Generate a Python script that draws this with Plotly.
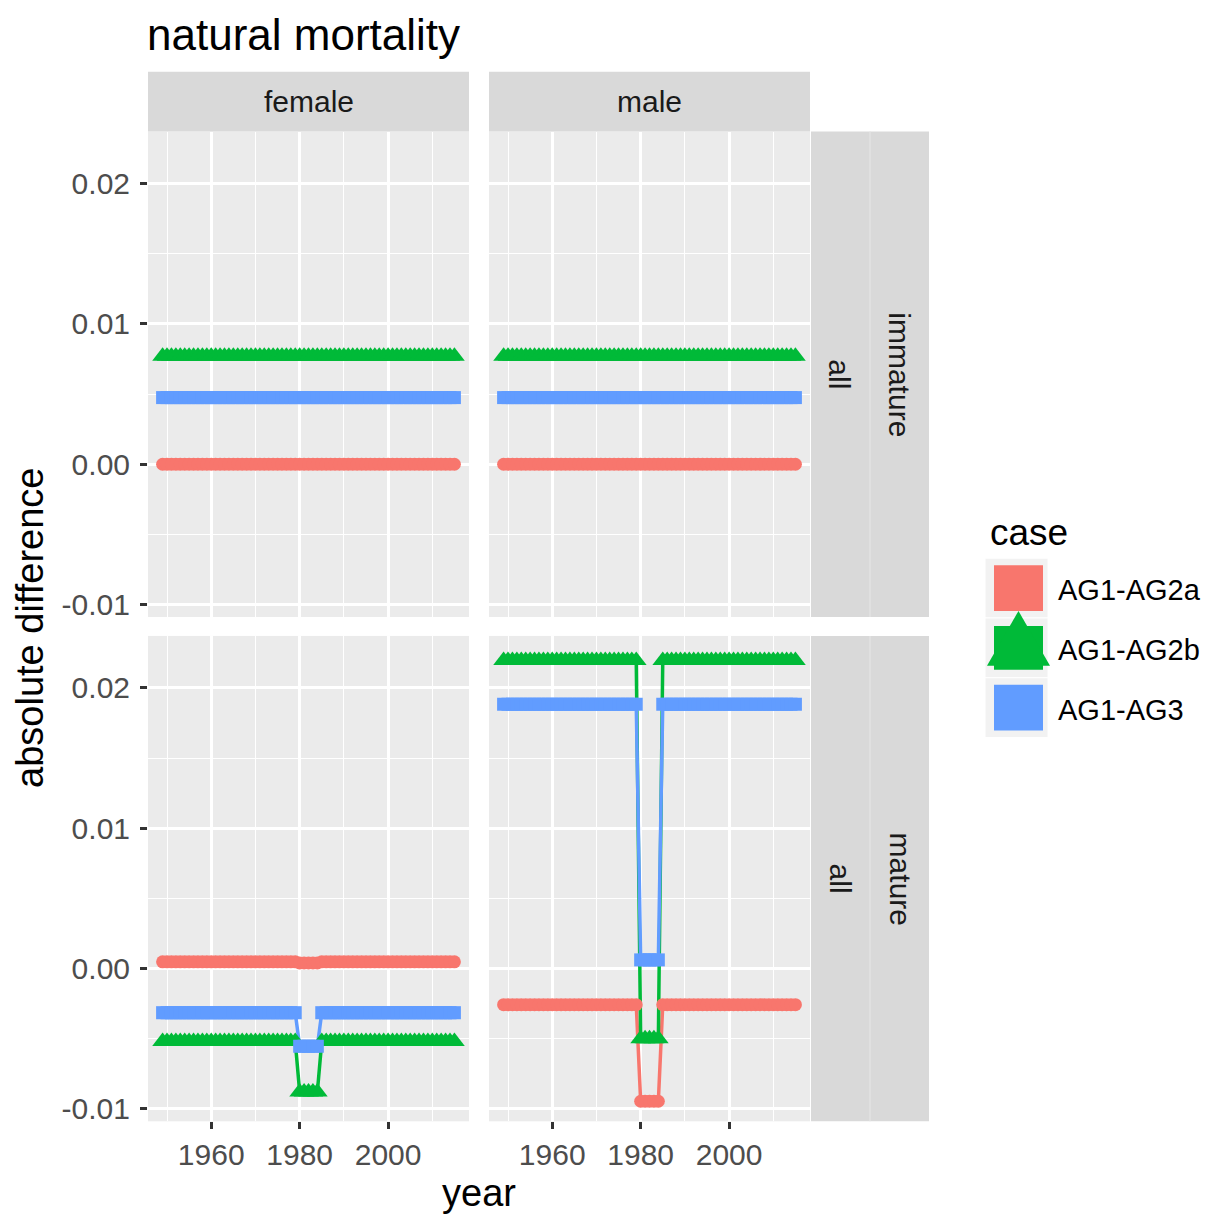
import plotly.graph_objects as go

# ---------------- data ----------------
years = list(range(1949, 2016))          # 67 years, dip years 1980-1984
cases = ["AG1-AG2a", "AG1-AG2b", "AG1-AG3"]
colors = {"AG1-AG2a": "#F8766D", "AG1-AG2b": "#00BA38", "AG1-AG3": "#619CFF"}
symbols = {"AG1-AG2a": "circle", "AG1-AG2b": "triangle-up", "AG1-AG3": "square"}
msizes = {"AG1-AG2a": 13, "AG1-AG2b": 18, "AG1-AG3": 13}

sexes = ["female", "male"]
maturity = ["immature", "mature"]

# immature (same for both sexes)
fem_imm_AG2a = [0.0] * 67
fem_imm_AG2b = [0.0077] * 67
fem_imm_AG3 = [0.00475] * 67
male_imm_AG2a = [0.0] * 67
male_imm_AG2b = [0.0077] * 67
male_imm_AG3 = [0.00475] * 67

# mature: 1949-1979, 1980-1984, 1985-2015
fem_mat_AG2a = [0.00048] * 31 + [0.0004] * 5 + [0.00048] * 31
fem_mat_AG2b = [-0.0052] * 31 + [-0.0088] * 5 + [-0.0052] * 31
fem_mat_AG3 = [-0.00314] * 31 + [-0.00553] * 5 + [-0.00314] * 31
male_mat_AG2a = [-0.00257] * 31 + [-0.00945] * 5 + [-0.00257] * 31
male_mat_AG2b = [0.02195] * 31 + [-0.0050] * 5 + [0.02195] * 31
male_mat_AG3 = [0.01884] * 31 + [0.00062] * 5 + [0.01884] * 31

x_ticks = [1960, 1980, 2000]
x_minor = [1950, 1970, 1990, 2010]
y_ticks = [-0.01, 0.0, 0.01, 0.02]
y_ticklabels = ["-0.01", "0.00", "0.01", "0.02"]
y_minor = [-0.005, 0.005, 0.015]

panels = {
    ("female", "immature"): [fem_imm_AG2a, fem_imm_AG2b, fem_imm_AG3],
    ("male", "immature"): [male_imm_AG2a, male_imm_AG2b, male_imm_AG3],
    ("female", "mature"): [fem_mat_AG2a, fem_mat_AG2b, fem_mat_AG3],
    ("male", "mature"): [male_mat_AG2a, male_mat_AG2b, male_mat_AG3],
}

# ---------------- layout helpers ----------------
OFF = 8  # page body margin
W, H = 1212 - OFF, 1220 - OFF
def px(x): return (x - OFF) / W
def py(y): return 1 - (y - OFF) / H

col_dom = {"female": [px(148), px(469)], "male": [px(489), px(810)]}
row_dom = {"immature": [py(619), py(132)], "mature": [py(1125), py(638)]}
XR = [1945.7, 2018.3]
YR = [-0.01088, 0.0237]

FONT = "Liberation Sans, Arial, Helvetica, sans-serif"
TICKC = "#4D4D4D"

fig = go.Figure()
layout = dict(
    width=W, height=H, autosize=False,
    margin=dict(l=0, r=0, t=0, b=0),
    paper_bgcolor="white", plot_bgcolor="#EBEBEB",
    showlegend=False, font=dict(family=FONT),
)

idx = 0
for mat in maturity:
    for sex in sexes:
        idx += 1
        xa = "x" if idx == 1 else f"x{idx}"
        ya = "y" if idx == 1 else f"y{idx}"
        series = panels[(sex, mat)]
        # lines first
        for c, vals in zip(cases, series):
            fig.add_trace(go.Scatter(x=years, y=vals, mode="lines", xaxis=xa, yaxis=ya,
                                     line=dict(color=colors[c], width=3.5), hoverinfo="skip"))
        for c, vals in zip(cases, series):
            fig.add_trace(go.Scatter(x=years, y=vals, mode="markers", xaxis=xa, yaxis=ya, name=c,
                                     marker=dict(color=colors[c], symbol=symbols[c], size=msizes[c],
                                                 line=dict(width=0))))
        bottom = mat == "mature"
        left = sex == "female"
        layout["xaxis" if idx == 1 else f"xaxis{idx}"] = dict(
            domain=col_dom[sex], anchor=ya, range=XR, zeroline=False,
            tickvals=x_ticks, ticktext=[str(v) for v in x_ticks],
            showticklabels=bottom, ticks="outside" if bottom else "",
            ticklen=7, tickwidth=2.5, tickcolor="#333333",
            tickfont=dict(size=30, color=TICKC, family=FONT),
            showgrid=True, gridcolor="white", gridwidth=2.8,
            minor=dict(tickvals=x_minor, showgrid=True, gridcolor="white", gridwidth=1.4, ticks=""),
            showline=False, fixedrange=True,
        )
        layout["yaxis" if idx == 1 else f"yaxis{idx}"] = dict(
            domain=row_dom[mat], anchor=xa, range=YR, zeroline=False,
            tickvals=y_ticks, ticktext=y_ticklabels,
            showticklabels=left, ticks="outside" if left else "",
            ticklen=7, tickwidth=2.5, tickcolor="#333333",
            tickfont=dict(size=30, color=TICKC, family=FONT),
            showgrid=True, gridcolor="white", gridwidth=2.8,
            minor=dict(tickvals=y_minor, showgrid=True, gridcolor="white", gridwidth=1.4, ticks=""),
            showline=False, fixedrange=True, ticklabelstandoff=4,
        )

shapes = []
annotations = []
STRIP = "#D9D9D9"
# top strips
for sex in sexes:
    x0, x1 = col_dom[sex]
    shapes.append(dict(type="rect", xref="paper", yref="paper", x0=x0, x1=x1, y0=py(132), y1=py(72),
                       fillcolor=STRIP, line=dict(width=0), layer="below"))
    annotations.append(dict(text=sex, xref="paper", yref="paper", x=(x0 + x1) / 2, y=py(102),
                            showarrow=False, xanchor="center", yanchor="middle",
                            font=dict(size=30, color="#1A1A1A", family=FONT)))
# right strips
for mat in maturity:
    y0, y1 = row_dom[mat]
    shapes.append(dict(type="rect", xref="paper", yref="paper", x0=px(811), x1=px(929), y0=y0, y1=y1,
                       fillcolor=STRIP, line=dict(width=0), layer="below"))
    shapes.append(dict(type="line", xref="paper", yref="paper", x0=px(870), x1=px(870), y0=y0, y1=y1,
                       line=dict(color="#E4E4E4", width=1.2)))
    annotations.append(dict(text="all", xref="paper", yref="paper", x=px(840), y=(y0 + y1) / 2,
                            showarrow=False, textangle=90, xanchor="center", yanchor="middle",
                            font=dict(size=30, color="#1A1A1A", family=FONT)))
    annotations.append(dict(text=mat, xref="paper", yref="paper", x=px(900), y=(y0 + y1) / 2,
                            showarrow=False, textangle=90, xanchor="center", yanchor="middle",
                            font=dict(size=30, color="#1A1A1A", family=FONT)))

# titles
annotations.append(dict(text="natural mortality", xref="paper", yref="paper", x=px(146), y=py(9),
                        showarrow=False, xanchor="left", yanchor="top", borderpad=0,
                        font=dict(size=44, color="black", family=FONT)))
annotations.append(dict(text="year", xref="paper", yref="paper", x=px(479), y=py(1197),
                        showarrow=False, xanchor="center", yanchor="middle",
                        font=dict(size=38, color="black", family=FONT)))
annotations.append(dict(text="absolute difference", xref="paper", yref="paper", x=px(30), y=py(630),
                        showarrow=False, textangle=-90, xanchor="center", yanchor="middle",
                        font=dict(size=38, color="black", family=FONT)))

# legend (manual, ggplot-style large keys)
annotations.append(dict(text="case", xref="paper", yref="paper", x=px(988), y=py(534),
                        showarrow=False, xanchor="left", yanchor="middle",
                        font=dict(size=37, color="black", family=FONT)))
key_tops = [560, 620, 680]
for c, top in zip(cases, key_tops):
    shapes.append(dict(type="rect", xref="paper", yref="paper", x0=px(985), x1=px(1048),
                       y0=py(top + 60), y1=py(top), fillcolor="#F2F2F2",
                       line=dict(color="white", width=1)))
    cy = top + 30
    if c == "AG1-AG2b":
        shapes.append(dict(type="rect", xref="paper", yref="paper", x0=px(994), x1=px(1043),
                           y0=py(cy + 22), y1=py(cy - 22), fillcolor=colors[c], line=dict(width=0)))
        path = (f"M {px(987)} {py(cy + 18)} L {px(1050)} {py(cy + 18)} "
                f"L {px(1018.5)} {py(cy - 37)} Z")
        shapes.append(dict(type="path", xref="paper", yref="paper", path=path,
                           fillcolor=colors[c], line=dict(width=0)))
    else:
        shapes.append(dict(type="rect", xref="paper", yref="paper", x0=px(994), x1=px(1043),
                           y0=py(cy + 23), y1=py(cy - 23), fillcolor=colors[c], line=dict(width=0)))
    annotations.append(dict(text=c, xref="paper", yref="paper", x=px(1056), y=py(cy + 2),
                            showarrow=False, xanchor="left", yanchor="middle",
                            font=dict(size=29, color="black", family=FONT)))

layout["shapes"] = shapes
layout["annotations"] = annotations
fig.update_layout(**layout)
fig.write_html("out.html")
